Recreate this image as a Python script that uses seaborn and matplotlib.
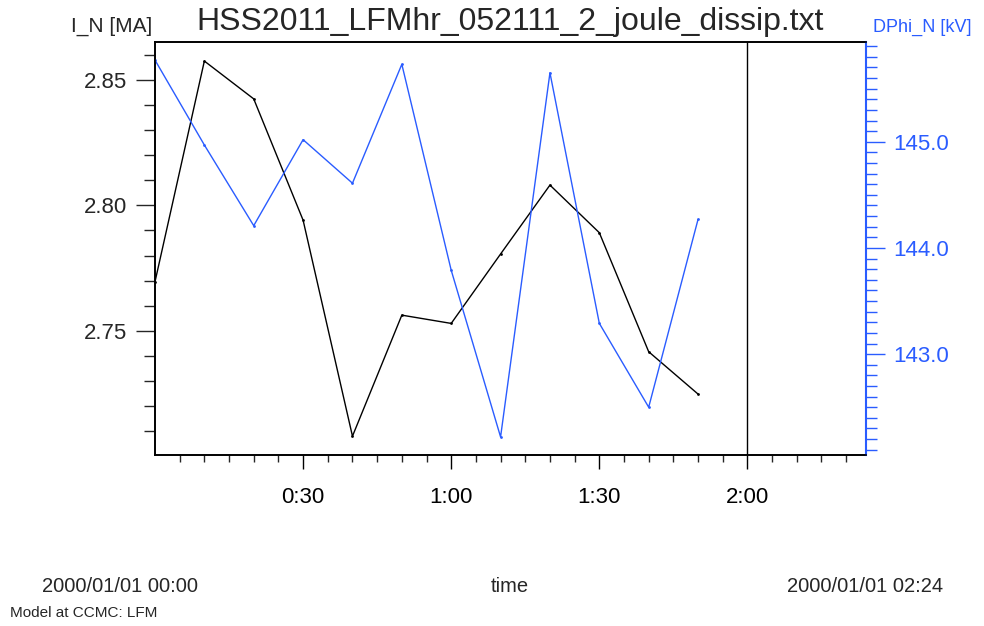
import matplotlib
matplotlib.use("Agg")
import matplotlib.pyplot as plt
import seaborn as sns
import pandas as pd
import numpy as np
from matplotlib.ticker import FixedLocator, FuncFormatter, MultipleLocator

# ---- data ----
minutes = [0, 10, 20, 30, 40, 50, 60, 70, 80, 90, 100, 110]
i_n = [2.7695, 2.8576, 2.8425, 2.7941, 2.7079, 2.7562, 2.7529, 2.7806, 2.8081, 2.7891, 2.7416, 2.7247]
dphi_n = [145.77, 144.97, 144.21, 145.02, 144.61, 145.73, 143.79, 142.22, 145.65, 143.29, 142.50, 144.27]
x_major = [30, 60, 90, 120]
left_major = [2.75, 2.80, 2.85]
right_major = [143.0, 144.0, 145.0]

title = "HSS2011_LFMhr_052111_2_joule_dissip.txt"
left_label = "I_N [MA]"
right_label = "DPhi_N [kV]"
start_label = "2000/01/01 00:00"
end_label = "2000/01/01 02:24"
x_label = "time"
footer = "Model at CCMC: LFM"

df = pd.DataFrame({"minutes": minutes, "I_N": i_n, "DPhi_N": dphi_n})

sns.set_style("ticks")
plt.rcParams["font.family"] = ["Liberation Sans", "DejaVu Sans"]

BLUE = "#2a5cff"

fig = plt.figure(figsize=(9.84, 6.26), dpi=100)
ax = fig.add_axes([0.1575, 0.2732, 0.880 - 0.1575, 0.9329 - 0.2732])
ax2 = ax.twinx()

sns.lineplot(data=df, x="minutes", y="I_N", ax=ax, color="black", lw=1.0,
             marker=".", markersize=4, markeredgewidth=0)
sns.lineplot(data=df, x="minutes", y="DPhi_N", ax=ax2, color=BLUE, lw=1.0,
             marker=".", markersize=4, markeredgewidth=0)

ax.set_xlim(0, 144)
ax.set_ylim(2.7004, 2.8652)
ax2.set_ylim(142.05, 145.94)

ax.axvline(120, color="black", lw=1.0)

# x ticks
ax.xaxis.set_major_locator(FixedLocator(x_major))
ax.xaxis.set_major_formatter(FuncFormatter(lambda v, p: f"{int(v)//60}:{int(v)%60:02d}"))
ax.xaxis.set_minor_locator(FixedLocator([m for m in range(5, 144, 5) if m not in x_major]))
ax.tick_params(axis="x", which="major", length=10, width=1.0, direction="out",
               labelsize=16, pad=13, colors="black")
ax.tick_params(axis="x", which="minor", length=5, width=1.0, direction="out")

# left y ticks
ax.yaxis.set_major_locator(FixedLocator(left_major))
ax.yaxis.set_major_formatter(FuncFormatter(lambda v, p: f"{v:.2f}"))
ax.yaxis.set_minor_locator(MultipleLocator(0.01))
ax.tick_params(axis="y", which="major", length=14, width=1.0, labelsize=16, pad=6)
ax.tick_params(axis="y", which="minor", length=8, width=1.0)

# right y ticks
ax2.yaxis.set_major_locator(FixedLocator(right_major))
ax2.yaxis.set_major_formatter(FuncFormatter(lambda v, p: f"{v:.1f}"))
ax2.yaxis.set_minor_locator(MultipleLocator(0.1))
ax2.tick_params(axis="y", which="major", length=14, width=1.0, labelsize=16,
                colors=BLUE, pad=6)
ax2.tick_params(axis="y", which="minor", length=8, width=1.0, colors=BLUE)

ax.set_xlabel("")
ax.set_ylabel("")
ax2.set_ylabel("")

for a in (ax, ax2):
    for s in a.spines.values():
        s.set_linewidth(1.2)
        s.set_color("black")
ax2.spines["right"].set_color(BLUE)
ax2.spines["right"].set_linewidth(1.5)

# texts
fig.text(510 / 984, 1 - 22 / 626, title, ha="center", va="center", fontsize=23)
fig.text(152 / 984, 1 - 26 / 626, left_label, ha="right", va="center", fontsize=15)
fig.text(873 / 984, 1 - 27 / 626, right_label, ha="left", va="center", fontsize=13,
         color=BLUE)
fig.text(120 / 984, 1 - 587 / 626, start_label, ha="center", va="center", fontsize=14.5)
fig.text(510 / 984, 1 - 587 / 626, x_label, ha="center", va="center", fontsize=14.5)
fig.text(865 / 984, 1 - 587 / 626, end_label, ha="center", va="center", fontsize=14.5)
fig.text(10 / 984, 1 - 613 / 626, footer, ha="left", va="center", fontsize=11)

fig.savefig("out.png", dpi=100)
